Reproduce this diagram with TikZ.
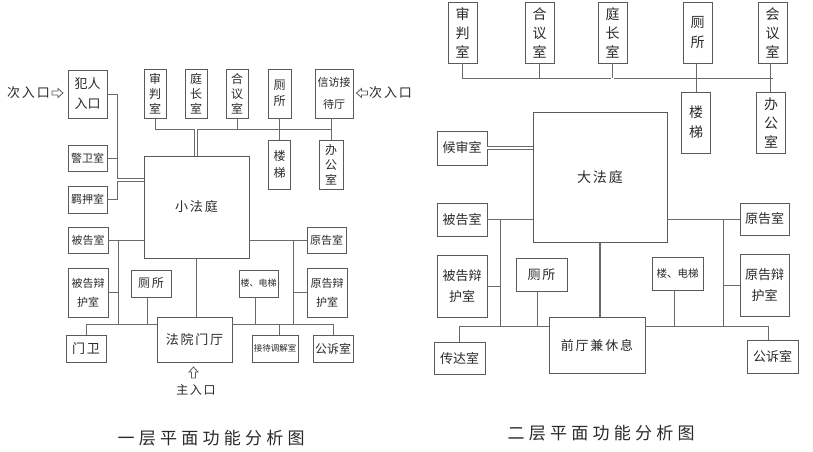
\documentclass[tikz,border=0pt]{standalone}
\usepackage{fontspec}
\newfontfamily\cjk{Noto Sans CJK SC}
\newfontfamily\cjksp[LetterSpace=14]{Noto Sans CJK SC}
\newfontfamily\cjkcap[LetterSpace=25]{Noto Sans CJK SC}
\definecolor{boxc}{HTML}{5A5A5A}
\definecolor{linec}{HTML}{6A6A6A}
\definecolor{txt}{HTML}{2A2A2A}
\tikzset{
  box/.style={draw=boxc, line width=0.8pt, inner sep=0pt, align=center, text=txt, fill=white},
  sz/.style n args={2}{minimum width=#1pt, minimum height=#2pt},
  fs/.style n args={2}{font=\cjk\fontsize{#1}{#2}\selectfont},
  fsp/.style n args={2}{font=\cjksp\fontsize{#1}{#2}\selectfont},
  ln/.style={draw=linec, line width=0.7pt},
  dbl/.style={draw=linec, line width=0.6pt, double=white, double distance=2.6pt},
  thk/.style={draw=linec, line width=1.6pt},
  lbl/.style={text=txt, inner sep=0pt},
  hollowarrow/.pic={\draw[boxc, line width=0.8pt, line join=miter] (-5.5,-2) -- (0.5,-2) -- (0.5,-4.5) -- (5.5,0) -- (0.5,4.5) -- (0.5,2) -- (-5.5,2) -- cycle;},
}
\begin{document}
\begin{tikzpicture}[x=1pt,y=-1pt]
\useasboundingbox[fill=white] (0,0) rectangle (813,451);
% ---------------- left: first floor ----------------
\coordinate (a-bus) at (0,129);
\coordinate (a-v1) at (117,0);
\coordinate (a-dy) at (0,180);
\coordinate (a-v2) at (118,0);
\coordinate (a-hb) at (0,324);
\coordinate (a-v3) at (293,0);

\node[box,sz={39}{48},fs={13}{20}] (a-fanren) at (87.5,94) {犯人\\入口};
\node[box,sz={22}{49},fs={12}{15}] (a-shenpan) at (155,93.5) {审\\判\\室};
\node[box,sz={22}{49},fs={12}{15}] (a-ting) at (196,93.5) {庭\\长\\室};
\node[box,sz={22}{49},fs={12}{15}] (a-heyi) at (237,93.5) {合\\议\\室};
\node[box,sz={23}{49},fs={12}{16}] (a-cesuo) at (279.5,93.5) {厕\\所};
\node[box,sz={38}{49},fs={11}{22}] (a-xinfang) at (334,93.5) {信访接\\待厅};
\node[box,sz={22}{49},fs={12}{17}] (a-louti) at (279.5,164.5) {楼\\梯};
\node[box,sz={24}{49},fs={12}{15}] (a-bangong) at (331,164.5) {办\\公\\室};
\node[box,sz={39}{26},fs={11}{13}] (a-jingwei) at (87.5,158) {警卫室};
\node[box,sz={39}{27},fs={11}{13}] (a-jiya) at (87.5,199.5) {羁押室};
\node[box,sz={105}{102},fsp={13}{15}] (a-xiao) at (196.5,207) {小法庭};
\node[box,sz={40}{26},fs={11}{13}] (a-beigao) at (88,240) {被告室};
\node[box,sz={40}{49},fs={11}{19}] (a-bgbh) at (88,292.5) {被告辩\\护室};
\node[box,sz={40}{27},fsp={12}{14}] (a-cesuo2) at (151,283.5) {厕所};
\node[box,sz={40}{27},fsp={13}{15}] (a-menwei) at (86,348.5) {门卫};
\node[box,sz={75}{45},fsp={13}{15}] (a-menting) at (194.5,339.5) {法院门厅};
\node[box,sz={39}{27},fs={9}{11}] (a-dianti) at (258.5,283.5) {楼、电梯};
\node[box,sz={39}{26},fs={11}{13}] (a-yuangao) at (326.5,240) {原告室};
\node[box,sz={40}{49},fs={11}{19}] (a-ygbh) at (327,292.5) {原告辩\\护室};
\node[box,sz={46}{27},fs={8.5}{10}] (a-jiedai) at (275,348.5) {接待调解室};
\node[box,sz={40}{27},fs={12}{14}] (a-gongsu) at (333,348.5) {公诉室};

\node[lbl,anchor=east,font=\cjksp\fontsize{13}{15}\selectfont] (a-ent1) at (50,93) {次入口};
\pic at (57.5,93) {hollowarrow};
\pic[rotate=180] at (362,93) {hollowarrow};
\node[lbl,anchor=west,font=\cjksp\fontsize{13}{15}\selectfont] (a-ent2) at (369,93) {次入口};
\pic[rotate=90] at (193.5,372.5) {hollowarrow};
\node[lbl,font=\cjksp\fontsize{12}{14}\selectfont] (a-main) at (196,390) {主入口};
\node[lbl,font=\cjkcap\fontsize{17}{19}\selectfont] (a-cap) at (211,438) {一层平面功能分析图};

\draw[ln] (a-shenpan.south) |- (a-bangong.north |- a-bus);
\draw[ln] (a-heyi.south) -- (a-heyi.south |- a-bus);
\draw[ln] (a-cesuo.south) -- (a-cesuo.south |- a-louti.north);
\draw[ln] (a-bangong.north |- a-xinfang.south) -- (a-bangong.north);
\draw[dbl] (a-ting.south |- a-bus) -- (a-ting.south |- a-xiao.north);
\draw[ln] (a-fanren.east) -| (a-v1 |- a-jiya.east) -- (a-jiya.east);
\draw[ln] (a-jingwei.east) -- (a-v1 |- a-jingwei.east);
\draw[dbl] (a-v1 |- a-dy) -- (a-xiao.west |- a-dy);
\draw[ln] (a-beigao.east) -- (a-xiao.west |- a-beigao.east);
\draw[ln] (a-v2 |- a-beigao.east) -- (a-v2 |- a-hb);
\draw[ln] (a-bgbh.east) -- (a-v2 |- a-bgbh.east);
\draw[ln] (a-menwei.north) |- (a-menting.west |- a-hb);
\draw[ln] ([xshift=-4pt]a-cesuo2.south) -- ([xshift=-4pt]a-cesuo2.south |- a-hb);
\draw[thk] (a-xiao.south) -- (a-xiao.south |- a-menting.north);
\draw[ln] (a-yuangao.west) -- (a-xiao.east |- a-yuangao.west);
\draw[ln] (a-v3 |- a-yuangao.west) -- (a-v3 |- a-hb);
\draw[ln] (a-ygbh.west) -- (a-v3 |- a-ygbh.west);
\draw[ln] (a-menting.east |- a-hb) -| (a-gongsu.north);
\draw[ln] ([xshift=4pt]a-jiedai.north) -- ([xshift=4pt]a-jiedai.north |- a-hb);
\draw[ln] ([xshift=-3pt]a-dianti.south) -- ([xshift=-3pt]a-dianti.south |- a-hb);

% ---------------- right: second floor ----------------
\coordinate (b-bus) at (0,78);
\coordinate (b-v1) at (500,0);
\coordinate (b-hb) at (0,326);
\coordinate (b-v3) at (723,0);

\node[box,sz={29}{61},fs={14}{19}] (b-shenpan) at (462.5,32.5) {审\\判\\室};
\node[box,sz={29}{61},fs={14}{19}] (b-heyi) at (539.5,32.5) {合\\议\\室};
\node[box,sz={29}{61},fs={14}{19}] (b-ting) at (612.5,32.5) {庭\\长\\室};
\node[box,sz={29}{61},fs={14}{20}] (b-cesuo) at (697.5,32.5) {厕\\所};
\node[box,sz={29}{61},fs={14}{19}] (b-huiyi) at (772.5,32.5) {会\\议\\室};
\node[box,sz={29}{61},fs={14}{20}] (b-louti) at (696,122.5) {楼\\梯};
\node[box,sz={29}{61},fs={14}{19}] (b-bangong) at (771,122.5) {办\\公\\室};
\node[box,sz={134}{130},fsp={14}{16}] (b-da) at (600,177) {大法庭};
\node[box,sz={50}{34},fs={13}{15}] (b-houshen) at (462,148) {候审室};
\node[box,sz={50}{33},fs={13}{15}] (b-beigao) at (462,219.5) {被告室};
\node[box,sz={50}{62},fs={13}{21}] (b-bgbh) at (462,286) {被告辩\\护室};
\node[box,sz={51}{33},fsp={13}{15}] (b-cesuo2) at (541.5,274.5) {厕所};
\node[box,sz={51}{32},fs={13}{15}] (b-chuanda) at (459.5,358) {传达室};
\node[box,sz={96}{56},fsp={13}{15}] (b-qian) at (597,345) {前厅兼休息};
\node[box,sz={51}{33},fs={10.5}{12}] (b-dianti) at (677.5,273.5) {楼、电梯};
\node[box,sz={49}{32},fs={13}{15}] (b-yuangao) at (764.5,219) {原告室};
\node[box,sz={49}{62},fs={13}{21}] (b-ygbh) at (764.5,285) {原告辩\\护室};
\node[box,sz={51}{33},fs={13}{15}] (b-gongsu) at (772.5,356.5) {公诉室};
\node[lbl,font=\cjkcap\fontsize{17}{19}\selectfont] (b-cap) at (601,433) {二层平面功能分析图};

\draw[ln] (b-shenpan.south) |- (b-huiyi.south |- b-bus);
\draw[ln] (b-heyi.south) -- (b-heyi.south |- b-bus);
\draw[ln] (b-ting.south) -- (b-ting.south |- b-bus);
\draw[dbl] (b-ting.south |- b-bus) -- (b-ting.south |- b-da.north);
\draw[ln] ([xshift=-1pt]b-cesuo.south) -- ([xshift=-1pt]b-cesuo.south |- b-louti.north);
\draw[ln] ([xshift=-2pt]b-huiyi.south) -- ([xshift=-2pt]b-huiyi.south |- b-bangong.north);
\draw[dbl] (b-houshen.east) -- (b-da.west |- b-houshen.east);
\draw[ln] (b-beigao.east) -- (b-da.west |- b-beigao.east);
\draw[ln] (b-v1 |- b-beigao.east) -- (b-v1 |- b-hb);
\draw[ln] (b-bgbh.east) -- (b-v1 |- b-bgbh.east);
\draw[ln] (b-chuanda.north) |- (b-qian.west |- b-hb);
\draw[ln] ([xshift=-4pt]b-cesuo2.south) -- ([xshift=-4pt]b-cesuo2.south |- b-hb);
\draw[thk] (b-da.south) -- (b-da.south |- b-qian.north);
\draw[ln] (b-yuangao.west) -- (b-da.east |- b-yuangao.west);
\draw[ln] (b-v3 |- b-yuangao.west) -- (b-v3 |- b-hb);
\draw[ln] (b-ygbh.west) -- (b-v3 |- b-ygbh.west);
\draw[ln] (b-qian.east |- b-hb) -| ([xshift=-4pt]b-gongsu.north);
\draw[ln] ([xshift=-3pt]b-dianti.south) -- ([xshift=-3pt]b-dianti.south |- b-hb);
\end{tikzpicture}
\end{document}
